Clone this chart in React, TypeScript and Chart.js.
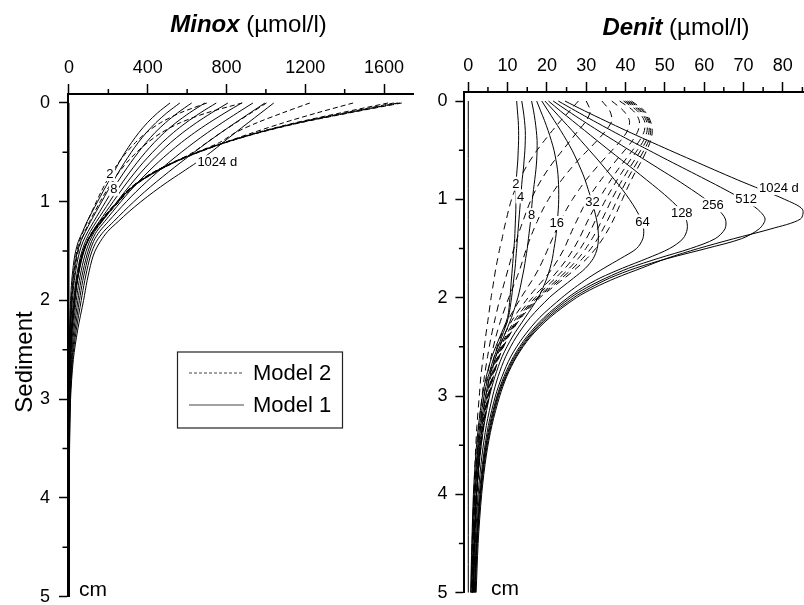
import React, { useEffect, useRef } from "react";
import { Chart, registerables } from "chart.js";

Chart.register(...registerables);

const FONT = "'Liberation Sans', Arial, Helvetica, sans-serif";

// ---------- axes ----------
const depthTicks = [0, 1, 2, 3, 4, 5];
const depthMinor = [0.5, 1.5, 2.5, 3.5, 4.5];
const minoxTicks = [0, 400, 800, 1200, 1600];
const minoxMinor = [200, 600, 1000, 1400];
const denitTicks = [0, 10, 20, 30, 40, 50, 60, 70, 80];
const denitMinor = [5, 15, 25, 35, 45, 55, 65, 75, 85];

// ---------- Minox (µmol/l) vs depth (cm) ----------
const minoxDepth = [0, 0.1, 0.2, 0.3, 0.4, 0.5, 0.6, 0.7, 0.8, 0.9, 1.0, 1.1, 1.2, 1.3, 1.4, 1.5, 1.6, 1.8, 2.0, 2.3, 2.6, 3.0, 3.5, 4.0, 5.0];

// Model 1 (solid)
const minoxM1_2 = [513, 450, 398, 355, 318, 285, 255, 228, 200, 172, 145, 118, 92, 70, 48, 34, 25, 14, 8, 3, 1.5, 0.6, 0.3, 0.1, 0];
const minoxM1_4 = [563, 497, 441, 393, 352, 316, 283, 252, 223, 194, 166, 138, 110, 84, 60, 44, 33, 20, 12, 5, 2.5, 1, 0.4, 0.2, 0];
const minoxM1_8 = [623, 552, 490, 437, 392, 352, 315, 280, 247, 216, 186, 156, 126, 97, 72, 55, 43, 27, 17, 8, 3.5, 1.5, 0.6, 0.3, 0];
const minoxM1_16 = [690, 612, 543, 484, 433, 388, 347, 309, 273, 239, 206, 173, 140, 109, 84, 66, 53, 35, 23, 11, 5, 2, 0.8, 0.3, 0];
const minoxM1_32 = [748, 667, 594, 530, 474, 424, 378, 336, 297, 260, 224, 189, 154, 120, 95, 77, 63, 43, 30, 15, 7, 2.8, 1, 0.4, 0];
const minoxM1_64 = [807, 724, 647, 578, 517, 463, 413, 367, 324, 283, 244, 206, 168, 131, 105, 87, 73, 52, 37, 20, 9, 3.5, 1.3, 0.5, 0];
const minoxM1_128 = [877, 792, 712, 638, 571, 510, 453, 401, 352, 306, 263, 222, 181, 141, 115, 97, 83, 61, 45, 25, 12, 4.5, 1.7, 0.7, 0];
const minoxM1_256 = [934, 855, 778, 704, 635, 570, 508, 449, 393, 340, 291, 245, 200, 156, 125, 106, 92, 70, 53, 31, 15, 5.5, 2, 0.8, 0];
const minoxM1_512 = [995, 920, 845, 772, 702, 635, 569, 505, 443, 384, 329, 277, 227, 177, 140, 117, 102, 80, 62, 37, 18, 6.5, 2.4, 1, 0];
const minoxM1_1024 = [1040, 975, 910, 845, 782, 720, 650, 575, 500, 430, 365, 305, 250, 197, 160, 132, 115, 92, 74, 44, 22, 8, 3, 1.2, 0];

// Model 2 (dashed)
const minoxM2_2 = [700, 565, 465, 393, 338, 292, 253, 219, 189, 163, 139, 116, 94, 73, 53, 40, 31, 19, 12, 6, 3, 1.2, 0.5, 0.2, 0];
const minoxM2_4 = [880, 700, 565, 470, 400, 343, 295, 254, 218, 187, 158, 131, 105, 81, 61, 47, 37, 23, 15, 7, 3.5, 1.5, 0.6, 0.2, 0];
const minoxM2_8 = [1003, 925, 848, 772, 700, 630, 535, 440, 356, 293, 246, 202, 160, 122, 93, 72, 57, 38, 26, 13, 6, 2.5, 1, 0.4, 0];
const minoxM2_16 = [1223, 1085, 955, 845, 765, 648, 530, 430, 350, 290, 245, 200, 158, 120, 92, 72, 58, 40, 28, 14, 6.5, 2.7, 1, 0.4, 0];
const minoxM2_32 = [1443, 1260, 1090, 935, 790, 650, 530, 430, 350, 290, 245, 200, 158, 120, 92, 72, 58, 40, 28, 14, 6.5, 2.7, 1, 0.4, 0];
const minoxM2_64 = [1620, 1380, 1150, 955, 790, 650, 530, 432, 352, 292, 247, 202, 160, 122, 93, 73, 59, 41, 28, 14, 6.5, 2.7, 1, 0.4, 0];
const minoxM2_128 = [1650, 1400, 1160, 960, 792, 652, 532, 433, 353, 293, 248, 203, 161, 123, 94, 73, 59, 41, 29, 14, 6.5, 2.7, 1, 0.4, 0];
const minoxM2_256 = [1670, 1410, 1165, 962, 794, 654, 534, 435, 355, 295, 250, 205, 162, 124, 94, 74, 60, 42, 29, 14, 6.5, 2.7, 1, 0.4, 0];
const minoxM2_512 = [1680, 1418, 1170, 965, 796, 656, 536, 437, 357, 297, 252, 207, 164, 125, 95, 74, 60, 42, 29, 14, 6.5, 2.7, 1, 0.4, 0];
const minoxM2_1024 = [1690, 1425, 1175, 968, 798, 658, 538, 439, 359, 299, 254, 209, 166, 126, 96, 75, 61, 42, 30, 14, 6.5, 2.7, 1, 0.4, 0];

const minoxLabelText = ["2", "8", "1024 d"];
const minoxLabelX = [208, 228, 753];
const minoxLabelY = [0.72, 0.87, 0.6];

// ---------- Denit (µmol/l) vs depth (cm) ----------
const denitDepth = [0, 0.1, 0.2, 0.3, 0.4, 0.5, 0.6, 0.7, 0.8, 0.9, 1.0, 1.1, 1.2, 1.3, 1.4, 1.5, 1.6, 1.7, 1.8, 1.9, 2.0, 2.2, 2.4, 2.6, 2.8, 3.0, 3.3, 3.6, 4.0, 4.5, 5.0];

// Model 1 (solid)
const denitM1_2 = [12.3, 12.5, 12.7, 12.8, 12.8, 12.7, 12.6, 12.4, 12.2, 12.1, 12.1, 12.1, 12.0, 11.9, 11.8, 11.6, 11.4, 11.2, 11.0, 10.8, 10.6, 10.0, 8.0, 6.0, 4.6, 3.6, 2.6, 1.9, 1.3, 0.9, 0.6];
const denitM1_4 = [13.6, 14.0, 14.3, 14.5, 14.5, 14.4, 14.2, 14.0, 13.7, 13.5, 13.3, 13.1, 12.9, 12.7, 12.5, 12.3, 12.1, 11.9, 11.6, 11.3, 11.0, 10.2, 8.5, 6.6, 5.1, 4.0, 2.9, 2.2, 1.5, 1.0, 0.7];
const denitM1_8 = [16.1, 16.6, 17.0, 17.3, 17.5, 17.5, 17.4, 17.2, 16.9, 16.6, 16.3, 16.1, 15.9, 15.6, 15.3, 15.0, 14.6, 14.2, 13.7, 13.2, 12.6, 11.0, 9.0, 7.0, 5.5, 4.4, 3.2, 2.4, 1.7, 1.2, 0.9];
const denitM1_16 = [17.4, 18.4, 19.4, 20.3, 21.1, 21.8, 22.3, 22.7, 22.9, 23.0, 23.0, 22.9, 22.7, 22.5, 22.2, 21.8, 21.4, 20.8, 20.0, 19.0, 17.8, 14.5, 11.2, 8.6, 6.8, 5.4, 4.0, 3.0, 2.1, 1.5, 1.1];
const denitM1_32 = [18.7, 20.3, 21.9, 23.5, 25.0, 26.4, 27.6, 28.7, 29.7, 30.5, 31.3, 32.0, 32.6, 33.0, 33.1, 32.8, 31.8, 29.8, 26.8, 23.6, 20.6, 15.8, 12.2, 9.5, 7.6, 6.2, 4.6, 3.5, 2.5, 1.8, 1.3];
const denitM1_64 = [19.5, 21.8, 24.1, 26.4, 28.6, 30.8, 33.0, 35.1, 37.2, 39.2, 41.0, 42.6, 43.9, 44.6, 44.4, 42.8, 38.8, 34.5, 30.5, 27.0, 23.8, 18.2, 14.0, 10.8, 8.6, 6.9, 5.1, 3.9, 2.8, 2.0, 1.5];
const denitM1_128 = [20.4, 23.4, 26.5, 29.6, 32.7, 35.8, 39.0, 42.2, 45.3, 48.4, 51.3, 53.8, 55.4, 55.7, 54.6, 51.2, 45.5, 39.2, 33.5, 29.0, 25.3, 19.3, 14.8, 11.5, 9.1, 7.3, 5.4, 4.1, 3.0, 2.1, 1.6];
const denitM1_256 = [21.6, 25.3, 29.1, 33.0, 37.0, 41.0, 45.0, 49.0, 53.0, 56.8, 60.4, 63.5, 65.4, 65.3, 62.8, 56.5, 48.3, 40.8, 35.0, 30.0, 26.0, 19.8, 15.2, 11.8, 9.4, 7.5, 5.6, 4.2, 3.1, 2.2, 1.7];
const denitM1_512 = [22.9, 27.3, 31.8, 36.4, 41.1, 45.9, 50.7, 55.6, 60.5, 65.3, 69.8, 73.6, 75.5, 74.0, 69.5, 60.5, 50.8, 42.5, 36.0, 31.0, 26.8, 20.3, 15.5, 12.1, 9.6, 7.7, 5.8, 4.4, 3.2, 2.3, 1.8];
const denitM1_1024 = [24.6, 29.6, 34.8, 40.1, 45.6, 51.2, 56.9, 62.6, 68.4, 74.5, 80.5, 85.0, 84.5, 77.0, 67.5, 58.5, 50.5, 44.0, 37.5, 32.0, 27.5, 20.8, 15.8, 12.3, 9.8, 8.0, 6.0, 4.6, 3.4, 2.5, 2.0];

// Model 2 (dashed)
const denitM2_2 = [28, 25.8, 23.5, 21.4, 19.4, 17.5, 15.8, 14.3, 13.0, 11.9, 11.0, 10.3, 9.7, 9.1, 8.6, 8.0, 7.5, 7.0, 6.6, 6.2, 5.8, 5.1, 4.4, 3.8, 3.2, 2.8, 2.2, 1.8, 1.4, 1.0, 0.8];
const denitM2_4 = [30, 31, 30, 28, 26, 24, 22, 20.2, 18.6, 17.2, 16.0, 15.0, 14.1, 13.2, 12.4, 11.6, 10.9, 10.2, 9.5, 8.8, 8.1, 6.9, 5.8, 4.9, 4.1, 3.5, 2.7, 2.2, 1.6, 1.2, 0.9];
const denitM2_8 = [34, 36, 36.5, 35, 32.8, 30.4, 28.0, 25.8, 23.8, 22.0, 20.4, 19.0, 17.8, 16.7, 15.7, 14.8, 14.0, 13.2, 12.3, 11.3, 10.3, 8.5, 7.0, 5.8, 4.8, 4.0, 3.1, 2.4, 1.8, 1.3, 1.0];
const denitM2_16 = [36.5, 39.5, 41, 40.5, 38.8, 36.6, 34.3, 32.1, 30.0, 28.2, 26.5, 25.0, 23.7, 22.5, 21.4, 20.3, 19.2, 18.0, 16.6, 15.0, 13.4, 10.5, 8.2, 6.6, 5.4, 4.5, 3.4, 2.6, 1.9, 1.4, 1.1];
const denitM2_32 = [38.5, 42, 43.5, 43.2, 41.8, 39.8, 37.7, 35.7, 33.8, 32.0, 30.4, 29.0, 27.8, 26.6, 25.5, 24.4, 23.0, 21.4, 19.5, 17.3, 15.2, 11.6, 8.9, 7.0, 5.7, 4.7, 3.5, 2.7, 2.0, 1.5, 1.1];
const denitM2_64 = [39.5, 43, 44.8, 44.8, 43.6, 41.8, 39.9, 38.0, 36.3, 34.7, 33.2, 31.9, 30.6, 29.4, 28.2, 26.8, 25.2, 23.3, 21.2, 18.8, 16.3, 12.3, 9.4, 7.3, 5.9, 4.9, 3.6, 2.8, 2.1, 1.5, 1.2];
const denitM2_128 = [40, 43.6, 45.3, 45.5, 44.6, 43.0, 41.2, 39.5, 37.9, 36.4, 35.0, 33.7, 32.5, 31.3, 30.0, 28.5, 26.7, 24.6, 22.2, 19.6, 17.0, 12.8, 9.7, 7.5, 6.1, 5.0, 3.7, 2.8, 2.1, 1.6, 1.2];
const denitM2_256 = [40.5, 44, 45.7, 46, 45.3, 43.9, 42.3, 40.7, 39.2, 37.8, 36.5, 35.3, 34.1, 32.9, 31.5, 29.9, 28.0, 25.7, 23.1, 20.3, 17.5, 13.1, 9.9, 7.7, 6.2, 5.1, 3.8, 2.9, 2.2, 1.6, 1.2];
const denitM2_512 = [41, 44.4, 46, 46.4, 45.9, 44.7, 43.3, 41.8, 40.4, 39.1, 37.9, 36.8, 35.6, 34.3, 32.9, 31.2, 29.1, 26.6, 23.8, 20.8, 17.8, 13.3, 10.1, 7.8, 6.3, 5.2, 3.8, 2.9, 2.2, 1.6, 1.2];
const denitM2_1024 = [41.5, 44.8, 46.3, 46.8, 46.4, 45.4, 44.2, 42.8, 41.5, 40.3, 39.2, 38.1, 37.0, 35.7, 34.2, 32.4, 30.2, 27.5, 24.5, 21.3, 18.2, 13.5, 10.2, 7.9, 6.4, 5.3, 3.9, 3.0, 2.2, 1.6, 1.2];

const denitLabelText = ["2", "4", "8", "16", "32", "64", "128", "256", "512", "1024 d"];
const denitLabelX = [12.1, 13.3, 16.1, 22.5, 31.6, 44.3, 54.3, 62.2, 70.7, 79];
const denitLabelY = [0.84, 0.97, 1.16, 1.24, 1.03, 1.225, 1.14, 1.06, 1.0, 0.885];

const zeroLineX = [0, 0];
const zeroLineDepth = [0, 5];

const legendText = ["Model 2", "Model 1"];

// ---------- helpers ----------
const toPoints = (xs: number[], ys: number[]) => xs.map((v, i) => ({ x: v, y: ys[i] }));

function lineSet(values: number[], depth: number[], dashed: boolean, dash: number[]) {
  return {
    data: toPoints(values, depth),
    borderColor: "#000",
    borderWidth: 1,
    borderDash: dashed ? dash : [],
    pointRadius: 0,
    tension: 0.3,
    fill: false,
  };
}

type Deco = {
  id: string;
  titleBold: string;
  titleRest: string;
  titleCx: number;
  titleBase: number;
  xMinor: number[];
  yMinor: number[];
  labelText: string[];
  labelX: number[];
  labelY: number[];
  cmX: number;
  cmBase: number;
  sediment: boolean;
  legend: boolean;
};

function decoPlugin(cfg: Deco) {
  return {
    id: "deco_" + cfg.id,
    afterDatasetsDraw(chart: any) {
      const { ctx } = chart;
      const xs = chart.scales.x;
      const ys = chart.scales.y;
      ctx.save();
      ctx.font = `13px ${FONT}`;
      ctx.textAlign = "center";
      ctx.textBaseline = "middle";
      cfg.labelText.forEach((t, i) => {
        const px = xs.getPixelForValue(cfg.labelX[i]);
        const py = ys.getPixelForValue(cfg.labelY[i]);
        const w = ctx.measureText(t).width;
        ctx.fillStyle = "#fff";
        ctx.fillRect(px - w / 2 - 1.5, py - 7, w + 3, 14);
        ctx.fillStyle = "#000";
        ctx.fillText(t, px, py + 0.5);
      });
      ctx.restore();
    },
    afterDraw(chart: any) {
      const { ctx, chartArea } = chart;
      const xs = chart.scales.x;
      const ys = chart.scales.y;
      ctx.save();
      // minor ticks
      ctx.strokeStyle = "#000";
      ctx.lineWidth = 1.5;
      ctx.beginPath();
      cfg.xMinor.forEach((v) => {
        const p = xs.getPixelForValue(v);
        ctx.moveTo(p, chartArea.top);
        ctx.lineTo(p, chartArea.top - 5);
      });
      cfg.yMinor.forEach((v) => {
        const p = ys.getPixelForValue(v);
        ctx.moveTo(chartArea.left, p);
        ctx.lineTo(chartArea.left - 5.5, p);
      });
      ctx.stroke();

      // title
      ctx.fillStyle = "#000";
      ctx.textBaseline = "alphabetic";
      ctx.textAlign = "left";
      ctx.font = `italic bold 24px ${FONT}`;
      const w1 = ctx.measureText(cfg.titleBold).width;
      ctx.font = `24px ${FONT}`;
      const w2 = ctx.measureText(cfg.titleRest).width;
      const x0 = cfg.titleCx - (w1 + w2) / 2;
      ctx.font = `italic bold 24px ${FONT}`;
      ctx.fillText(cfg.titleBold, x0, cfg.titleBase);
      ctx.font = `24px ${FONT}`;
      ctx.fillText(cfg.titleRest, x0 + w1, cfg.titleBase);

      // cm
      ctx.font = `21px ${FONT}`;
      ctx.fillText("cm", cfg.cmX, cfg.cmBase);

      if (cfg.sediment) {
        ctx.save();
        ctx.translate(31.5, 362);
        ctx.rotate(-Math.PI / 2);
        ctx.textAlign = "center";
        ctx.font = `24px ${FONT}`;
        ctx.fillText("Sediment", 0, 0);
        ctx.restore();
      }

      if (cfg.legend) {
        const bx = 177.5, by = 352, bw = 165, bh = 76;
        ctx.fillStyle = "#fff";
        ctx.fillRect(bx, by, bw, bh);
        ctx.strokeStyle = "#222";
        ctx.lineWidth = 1.2;
        ctx.strokeRect(bx, by, bw, bh);
        const rows = [373, 405];
        ctx.lineWidth = 1;
        ctx.strokeStyle = "#444";
        rows.forEach((ry, i) => {
          ctx.setLineDash(i === 0 ? [3, 2] : []);
          ctx.beginPath();
          ctx.moveTo(189, ry);
          ctx.lineTo(244, ry);
          ctx.stroke();
        });
        ctx.setLineDash([]);
        ctx.fillStyle = "#000";
        ctx.font = `22px ${FONT}`;
        ctx.textBaseline = "middle";
        ctx.textAlign = "left";
        rows.forEach((ry, i) => ctx.fillText(legendText[i], 253, ry + 1));
      }
      ctx.restore();
    },
  };
}

function axisScales(
  xMin: number, xMax: number, xTicks: number[], xHeight: number,
  yMin: number, yTicks: number[], yWidth: number, yPad: number
) {
  const noPad = (s: any) => {
    s.paddingLeft = 0; s.paddingRight = 0; s.paddingTop = 0; s.paddingBottom = 0;
  };
  return {
    x: {
      type: "linear",
      position: "top",
      min: xMin,
      max: xMax,
      afterBuildTicks: (s: any) => { s.ticks = xTicks.map((v) => ({ value: v })); },
      afterFit: (s: any) => { s.height = xHeight; noPad(s); },
      ticks: {
        color: "#000",
        font: { family: FONT, size: 18 },
        padding: 5,
        maxRotation: 0,
        autoSkip: false,
        callback: (v: any) => String(v),
      },
      grid: { display: true, drawOnChartArea: false, drawTicks: true, tickLength: 10, tickWidth: 1.5, tickColor: "#000" },
      border: { display: true, color: "#000", width: 2 },
    },
    y: {
      type: "linear",
      position: "left",
      reverse: true,
      min: yMin,
      max: 5,
      afterBuildTicks: (s: any) => { s.ticks = yTicks.map((v) => ({ value: v })); },
      afterFit: (s: any) => { s.width = yWidth; noPad(s); },
      ticks: {
        color: "#000",
        font: { family: FONT, size: 18 },
        padding: yPad,
        autoSkip: false,
        callback: (v: any) => String(v),
      },
      grid: { display: true, drawOnChartArea: false, drawTicks: true, tickLength: 9, tickWidth: 1.5, tickColor: "#000" },
      border: { display: true, color: "#000", width: 2 },
    },
  };
}

function minoxConfig(): any {
  const m1 = [minoxM1_2, minoxM1_4, minoxM1_8, minoxM1_16, minoxM1_32, minoxM1_64, minoxM1_128, minoxM1_256, minoxM1_512, minoxM1_1024];
  const m2 = [minoxM2_2, minoxM2_4, minoxM2_8, minoxM2_16, minoxM2_32, minoxM2_64, minoxM2_128, minoxM2_256, minoxM2_512, minoxM2_1024];
  const datasets = [
    ...m2.map((v) => lineSet(v, minoxDepth, true, [5, 3])),
    ...m1.map((v) => lineSet(v, minoxDepth, false, [])),
    lineSet(zeroLineX, zeroLineDepth, false, []),
  ];
  return {
    type: "line",
    data: { datasets },
    options: {
      animation: false,
      responsive: false,
      maintainAspectRatio: false,
      devicePixelRatio: 1,
      layout: { padding: { left: 8, right: 7, top: 0, bottom: 8.3 } },
      plugins: { legend: { display: false }, tooltip: { enabled: false }, title: { display: false } },
      scales: axisScales(-5, 1747, minoxTicks, 94, -0.091, depthTicks, 60, 9),
    },
    plugins: [
      decoPlugin({
        id: "minox",
        titleBold: "Minox",
        titleRest: " (\u00b5mol/l)",
        titleCx: 248.5,
        titleBase: 31.5,
        xMinor: minoxMinor,
        yMinor: depthMinor,
        labelText: minoxLabelText,
        labelX: minoxLabelX,
        labelY: minoxLabelY,
        cmX: 79,
        cmBase: 596,
        sediment: true,
        legend: true,
      }),
    ],
  };
}

function denitConfig(): any {
  const m1 = [denitM1_2, denitM1_4, denitM1_8, denitM1_16, denitM1_32, denitM1_64, denitM1_128, denitM1_256, denitM1_512, denitM1_1024];
  const m2 = [denitM2_2, denitM2_4, denitM2_8, denitM2_16, denitM2_32, denitM2_64, denitM2_128, denitM2_256, denitM2_512, denitM2_1024];
  const datasets = [
    ...m2.map((v) => lineSet(v, denitDepth, true, [7, 5])),
    ...m1.map((v) => lineSet(v, denitDepth, false, [])),
    lineSet(zeroLineX, zeroLineDepth, false, []),
  ];
  return {
    type: "line",
    data: { datasets },
    options: {
      animation: false,
      responsive: false,
      maintainAspectRatio: false,
      devicePixelRatio: 1,
      layout: { padding: { left: 0, right: 0, top: 0, bottom: 12.3 } },
      plugins: { legend: { display: false }, tooltip: { enabled: false }, title: { display: false } },
      scales: axisScales(-0.99, 85.4, denitTicks, 92, -0.092, depthTicks, 49.4, 8),
    },
    plugins: [
      decoPlugin({
        id: "denit",
        titleBold: "Denit",
        titleRest: " (\u00b5mol/l)",
        titleCx: 261,
        titleBase: 34.5,
        xMinor: denitMinor,
        yMinor: depthMinor,
        labelText: denitLabelText,
        labelX: denitLabelX,
        labelY: denitLabelY,
        cmX: 76,
        cmBase: 595,
        sediment: false,
        legend: false,
      }),
    ],
  };
}

export default function App() {
  const leftRef = useRef<HTMLCanvasElement>(null);
  const rightRef = useRef<HTMLCanvasElement>(null);

  useEffect(() => {
    const c1 = new Chart(leftRef.current as HTMLCanvasElement, minoxConfig());
    const c2 = new Chart(rightRef.current as HTMLCanvasElement, denitConfig());
    return () => {
      c1.destroy();
      c2.destroy();
    };
  }, []);

  return (
    <div style={{ position: "absolute", left: 0, top: 0, width: 804, height: 605, background: "#fff", overflow: "hidden" }}>
      <canvas ref={leftRef} width={420} height={605} style={{ position: "absolute", left: 0, top: 0, width: 420, height: 605 }} />
      <canvas ref={rightRef} width={389} height={605} style={{ position: "absolute", left: 415, top: 0, width: 389, height: 605 }} />
    </div>
  );
}
